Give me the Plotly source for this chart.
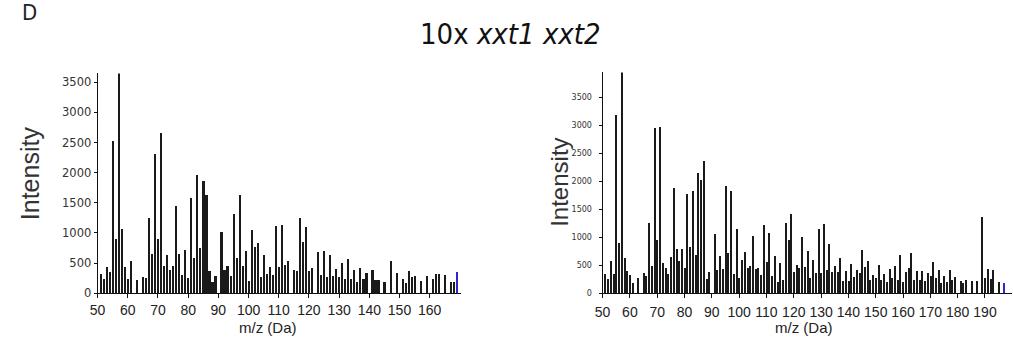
import plotly.graph_objects as go

# ---------------- data ----------------
left_mz = [51, 52, 53, 54, 55, 56, 57, 58, 59, 60, 61, 63, 65, 66, 67, 68, 69, 70, 71, 72,
           73, 74, 75, 76, 77, 78, 79, 80, 81, 82, 83, 84, 85, 86, 87, 88, 89, 91, 92, 93,
           94, 95, 96, 97, 98, 99, 100, 101, 102, 103, 104, 105, 106, 107, 108, 109, 110, 111, 112, 113,
           115, 116, 117, 118, 119, 120, 121, 123, 124, 125, 126, 127, 128, 129, 130, 131, 132, 133, 134, 135,
           136, 137, 138, 139, 141, 142, 143, 145, 147, 149, 151, 152, 153, 154, 155, 157, 159, 161, 162, 163,
           165, 167, 168, 169]
left_int = [314, 233, 423, 341, 2524, 899, 3646, 1062, 423, 233, 520, 217, 260, 244, 1235, 635, 2308, 899, 2644, 436,
            618, 382, 436, 1441, 639, 296, 705, 244, 1576, 569, 1950, 735, 1853, 1620, 368, 179, 276, 1008, 385, 439,
            276, 1306, 574, 1614, 444, 693, 190, 1048, 761, 823, 255, 625, 317, 430, 298, 1102, 423, 1127, 460, 520,
            379, 368, 1235, 837, 1094, 357, 406, 672, 298, 688, 260, 630, 282, 388, 265, 495, 225, 555, 222, 379,
            179, 409, 225, 328, 374, 217, 206, 184, 534, 325, 230, 160, 368, 265, 274, 200, 279, 230, 311, 311,
            298, 179, 170, 341]

right_mz = [51, 52, 53, 54, 55, 56, 57, 58, 59, 60, 61, 63, 65, 66, 67, 68, 69, 70, 71, 72,
            73, 74, 75, 76, 77, 78, 79, 80, 81, 82, 83, 84, 85, 86, 87, 88, 89, 91, 92, 93,
            94, 95, 96, 97, 98, 99, 100, 101, 102, 103, 104, 105, 106, 107, 108, 109, 110, 111, 112, 113,
            114, 115, 116, 117, 118, 119, 120, 121, 122, 123, 124, 125, 126, 127, 128, 129, 130, 131, 132, 133,
            134, 135, 136, 137, 138, 139, 140, 141, 142, 143, 144, 145, 146, 147, 148, 149, 150, 151, 152, 153,
            154, 155, 156, 157, 158, 159, 160, 161, 162, 163, 164, 165, 166, 167, 168, 169, 170, 171, 172, 173,
            174, 175, 176, 177, 178, 179, 181, 182, 183, 185, 187, 189, 190, 191, 192, 193, 195, 197]
right_int = [338, 251, 572, 338, 3174, 881, 3943, 618, 385, 315, 175, 268, 344, 292, 1254, 478, 2934, 933, 2952, 525,
             443, 338, 630, 1867, 776, 572, 788, 449, 1762, 817, 1818, 671, 2144, 2019, 2351, 239, 368, 1050, 397, 648,
             426, 1902, 718, 1826, 338, 1132, 268, 580, 732, 435, 473, 1021, 432, 438, 321, 1214, 540, 1070, 306, 648,
             184, 525, 233, 1240, 948, 1403, 373, 487, 446, 992, 455, 747, 265, 578, 356, 1140, 359, 1225, 400, 875,
             373, 478, 362, 615, 216, 385, 213, 513, 286, 408, 344, 758, 455, 566, 222, 315, 257, 496, 233, 338,
             198, 432, 268, 478, 228, 671, 198, 362, 449, 718, 233, 391, 233, 385, 210, 350, 303, 548, 257, 402,
             175, 303, 193, 408, 233, 280, 210, 175, 233, 216, 216, 1348, 268, 432, 239, 397, 193, 175]

left_xticks = [50, 60, 70, 80, 90, 100, 110, 120, 130, 140, 150, 160]
right_xticks = [50, 60, 70, 80, 90, 100, 110, 120, 130, 140, 150, 160, 170, 180, 190]
yticks = [0, 500, 1000, 1500, 2000, 2500, 3000, 3500]

title_plain = "10x "
title_italic = "xxt1 xxt2"
panel_label = "D"
x_title = "m/z (Da)"
y_title = "Intensity"

# ---------------- figure ----------------
W, H = 1013, 343
BAR = "#1a1a1a"
LAST = "#2a2ac8"


def colors(n):
    return [BAR] * (n - 1) + [LAST]


fig = go.Figure()
fig.add_trace(go.Bar(x=left_mz, y=left_int, width=0.55, marker=dict(color=colors(len(left_mz)), line=dict(width=0)),
                     xaxis="x", yaxis="y", showlegend=False))
fig.add_trace(go.Bar(x=right_mz, y=right_int, width=0.55, marker=dict(color=colors(len(right_mz)), line=dict(width=0)),
                     xaxis="x2", yaxis="y2", showlegend=False))


def px_x(p):
    return p / W


def px_y(p):
    return 1 - p / H


narrow = "Liberation Sans Narrow, DejaVu Sans Condensed, Liberation Sans, Arial"
regular = "Liberation Sans, Arial, sans-serif"

xcommon = dict(showline=True, linecolor="#111", linewidth=1, ticks="outside", ticklen=4, tickcolor="#111",
               showgrid=False, zeroline=False, tickangle=0,
               tickfont=dict(family=regular, size=14, color="#222"))
ycommon = dict(showline=True, linecolor="#111", linewidth=1, ticks="outside", ticklen=3, tickcolor="#111",
               showgrid=False, zeroline=False, tickvals=yticks)

fig.update_layout(
    width=W, height=H, margin=dict(l=0, r=0, t=0, b=0),
    paper_bgcolor="white", plot_bgcolor="white", bargap=0,
    xaxis=dict(domain=[px_x(90.3), px_x(457)], range=[50, 170.5], tickvals=left_xticks, anchor="y", **xcommon),
    yaxis=dict(domain=[px_y(299.3), px_y(75)], range=[0, 3646], anchor="x",
               tickfont=dict(family="DejaVu Sans", size=11.5, color="#333"), **ycommon),
    xaxis2=dict(domain=[px_x(599.3), px_x(1012.3)], range=[50, 200], tickvals=right_xticks, anchor="y2",
                ticklabelstandoff=2, **xcommon),
    yaxis2=dict(domain=[px_y(299.3), px_y(74)], range=[0, 3943], anchor="x2", ticklabelstandoff=5,
                tickfont=dict(family="DejaVu Sans", size=8, color="#333"), **ycommon),
)

ann = []
ann.append(dict(x=px_x(507), y=px_y(35), xref="paper", yref="paper", showarrow=False,
                text=title_plain + "<i>" + title_italic + "</i>",
                font=dict(family=narrow, size=29, color="#111"), xanchor="center", yanchor="middle"))
ann.append(dict(x=px_x(12), y=px_y(-2), xref="paper", yref="paper", showarrow=False, text=panel_label,
                font=dict(family=narrow, size=22, color="#222"), xanchor="left", yanchor="top"))
ann.append(dict(x=px_x(23), y=px_y(177), xref="paper", yref="paper", showarrow=False, text=y_title, textangle=-90,
                font=dict(family=regular, size=25, color="#333"), xanchor="center", yanchor="middle"))
ann.append(dict(x=px_x(556), y=px_y(186), xref="paper", yref="paper", showarrow=False, text=y_title, textangle=-90,
                font=dict(family=regular, size=24, color="#333"), xanchor="center", yanchor="middle"))
ann.append(dict(x=px_x(262), y=px_y(334), xref="paper", yref="paper", showarrow=False, text=x_title,
                font=dict(family=regular, size=15, color="#222"), xanchor="center", yanchor="middle"))
ann.append(dict(x=px_x(802), y=px_y(334), xref="paper", yref="paper", showarrow=False, text=x_title,
                font=dict(family=regular, size=15, color="#222"), xanchor="center", yanchor="middle"))
fig.update_layout(annotations=ann)

fig.write_html("out.html")
